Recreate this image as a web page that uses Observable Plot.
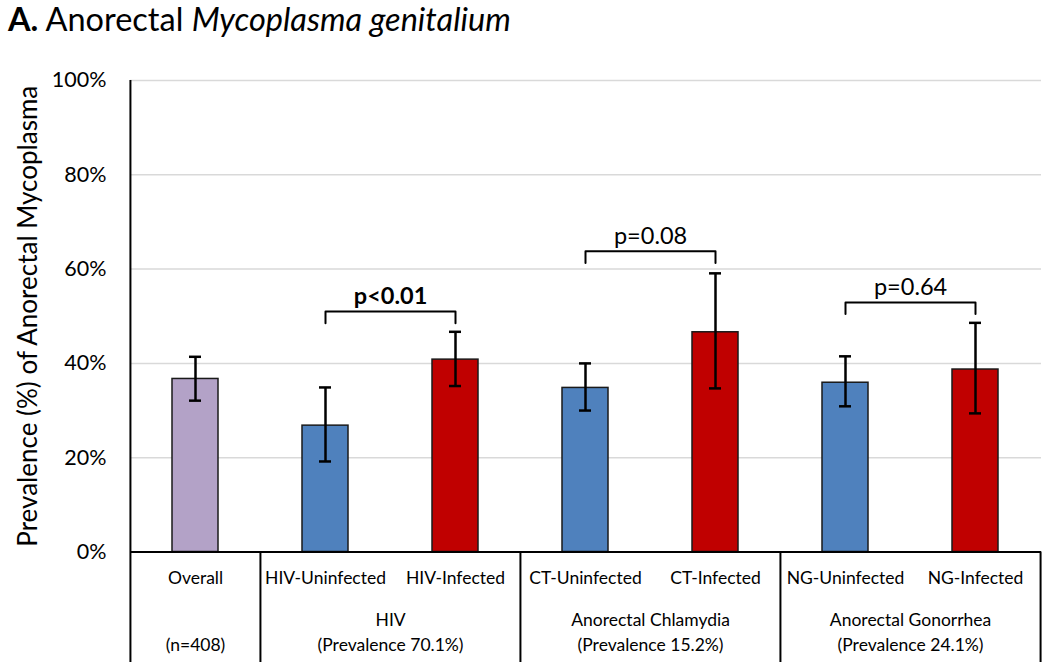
<!DOCTYPE html>
<html><head><meta charset="utf-8">
<script src="https://cdn.jsdelivr.net/npm/d3@7"></script>
<script src="https://cdn.jsdelivr.net/npm/@observablehq/plot@0.6"></script>
<style>
body{margin:0;background:#fff;font-family:Lato,sans-serif;}
#title{height:56px;box-sizing:border-box;padding:3px 0 0 8px;font-size:32.5px;line-height:1;color:#000;white-space:nowrap}
#chart svg{display:block}
</style></head><body>
<div id="title"><b>A.</b> Anorectal <i>Mycoplasma genitalium</i></div>
<div id="chart"></div>
<script>
const categories = ["Overall","HIV-Uninfected","HIV-Infected","CT-Uninfected","CT-Infected","NG-Uninfected","NG-Infected"];
const kinds = ["overall","uninfected","infected","uninfected","infected","uninfected","infected"];
const prevalence = [36.7, 26.8, 40.8, 34.8, 46.6, 35.9, 38.7];
const ciLow = [32.1, 19.2, 35.2, 30.0, 34.7, 30.9, 29.4];
const ciHigh = [41.4, 34.9, 46.7, 40.0, 59.1, 41.5, 48.6];
const groupNames = ["", "HIV", "Anorectal Chlamydia", "Anorectal Gonorrhea"];
const groupNotes = ["(n=408)", "(Prevalence 70.1%)", "(Prevalence 15.2%)", "(Prevalence 24.1%)"];
const groupFirst = ["Overall","HIV-Uninfected","CT-Uninfected","NG-Uninfected"];
const groupSize = [1,2,2,2];
const compA = ["HIV-Uninfected","CT-Uninfected","NG-Uninfected"];
const compB = ["HIV-Infected","CT-Infected","NG-Infected"];
const compLabels = ["p<0.01","p=0.08","p=0.64"];
const compBold = [true,false,false];
const compTop = [51.0, 63.8, 52.9];
const compFoot = [48.5, 61.3, 50.5];
const yTicks = [0,20,40,60,80,100];
const kindColors = {overall:"#b3a2c7", uninfected:"#4f81bd", infected:"#c00000"};

const rows = categories.map((c,i)=>({category:c, value:prevalence[i], low:ciLow[i], high:ciHigh[i], color:kindColors[kinds[i]]}));
const groups = groupFirst.map((f,i)=>({first:f, size:groupSize[i], text:groupNames[i]+"\n"+groupNotes[i]}));
const brackets = [];
compA.forEach((a,i)=>{
  brackets.push({id:i,x:a,y:compFoot[i]},{id:i,x:a,y:compTop[i]},{id:i,x:compB[i],y:compTop[i]},{id:i,x:compB[i],y:compFoot[i]});
});

const width=1050, height=606, marginLeft=130, marginRight=9, marginTop=24, marginBottom=110.5;
const step = (width-marginLeft-marginRight)/categories.length;
const pxPerUnit = (height-marginTop-marginBottom)/100;
const yBottom = -marginBottom/pxPerUnit;
const fs = 17.5;

const chart = Plot.plot({
  width, height, marginLeft, marginRight, marginTop, marginBottom,
  style:{fontFamily:"Lato, sans-serif", color:"#000", background:"#fff", overflow:"visible"},
  x:{domain:categories, paddingInner:0.646, paddingOuter:0.323, axis:null},
  y:{domain:[0,100], axis:null},
  color:{type:"identity"},
  marks:[
    Plot.ruleY(yTicks.filter(d=>d>0), {stroke:"#d9d9d9", strokeWidth:1.5}),
    Plot.barY(rows, {x:"category", y:"value", fill:"color", stroke:"#1a1a1a", strokeWidth:1.5}),
    Plot.ruleX(rows, {x:"category", y1:"low", y2:"high", stroke:"#000", strokeWidth:2.5}),
    Plot.tickY(rows, {x:"category", y:"low", insetLeft:17, insetRight:17, stroke:"#000", strokeWidth:2.5}),
    Plot.tickY(rows, {x:"category", y:"high", insetLeft:17, insetRight:17, stroke:"#000", strokeWidth:2.5}),
    Plot.line(brackets, {x:"x", y:"y", z:"id", stroke:"#000", strokeWidth:2, strokeLinejoin:"round"}),
    ...compLabels.map((t,i)=>Plot.text([t], {x:()=>compA[i], y:()=>compTop[i], text:d=>d, dx:step/2, dy:-15, fontSize:23.5, fontWeight:compBold[i]?"bold":"normal", fill:"#000"})),
    Plot.ruleY([0], {stroke:"#000", strokeWidth:2}),
    Plot.ruleX([categories[0]], {y1:yBottom, y2:100, dx:-step/2, stroke:"#000", strokeWidth:2}),
    Plot.ruleX(groupFirst.slice(1), {y1:yBottom, y2:0, dx:-step/2, stroke:"#000", strokeWidth:2}),
    Plot.ruleX([categories[categories.length-1]], {y1:yBottom, y2:0, dx:step/2, stroke:"#000", strokeWidth:2}),
    Plot.text(rows, {x:"category", y:()=>0, text:"category", dy:26.5, fontSize:fs, fill:"#000"}),
    Plot.text(groups.filter(g=>g.size===1), {x:"first", y:()=>0, text:"text", dy:78, lineHeight:1.43, fontSize:fs, fill:"#000"}),
    Plot.text(groups.filter(g=>g.size===2), {x:"first", y:()=>0, text:"text", dy:78, dx:step/2, lineHeight:1.43, fontSize:fs, fill:"#000"}),
    Plot.axisY(yTicks, {anchor:"left", tickSize:0, tickPadding:24, tickFormat:d=>d+"%", fontSize:21.5, label:null}),
    Plot.text(["Prevalence (%) of Anorectal Mycoplasma"], {frameAnchor:"left", textAnchor:"middle", dx:-102, rotate:-90, fontSize:26, fill:"#000"})
  ]
});
document.getElementById("chart").appendChild(chart);
</script>
</body></html>
